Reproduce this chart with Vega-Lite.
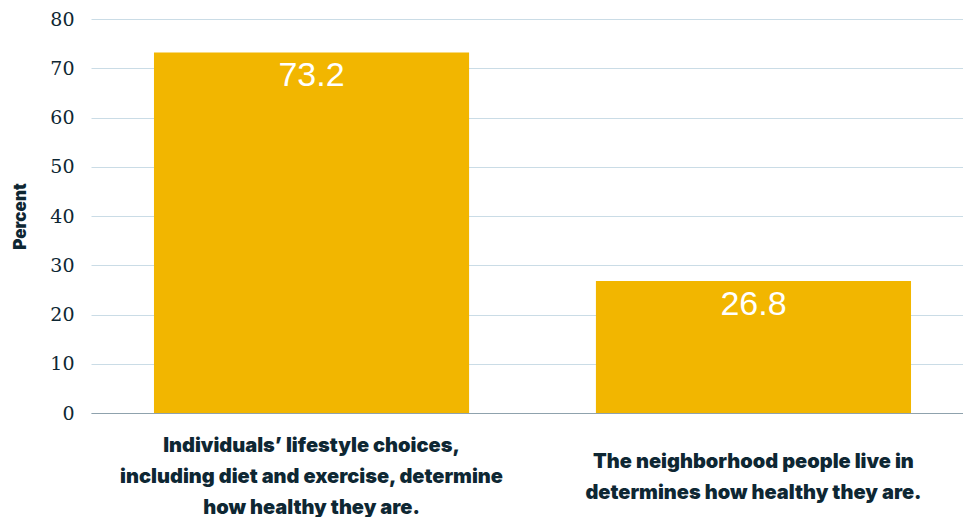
{
  "$schema": "https://vega.github.io/schema/vega-lite/v6.json",
  "width": 883,
  "height": 394,
  "autosize": {"type": "none"},
  "padding": {"left": 91, "top": 19, "right": 0, "bottom": 104},
  "background": "white",
  "config": {"view": {"stroke": null}},
  "data": {
    "values": [
      {"statement": "Individuals’ lifestyle choices, including diet and exercise, determine how healthy they are.", "percent": 73.2},
      {"statement": "The neighborhood people live in determines how healthy they are.", "percent": 26.8}
    ]
  },
  "layer": [
    {
      "mark": {"type": "bar", "color": "#F2B600"},
      "encoding": {
        "x": {
          "field": "statement",
          "type": "nominal",
          "sort": null,
          "scale": {"paddingInner": 0.287, "paddingOuter": 0.1425},
          "axis": {
            "title": null,
            "labelAngle": 0,
            "ticks": false,
            "domainColor": "#8FA2AD",
            "domainWidth": 1,
            "labelFont": "Inter",
            "labelFontWeight": 900,
            "labelFontSize": 20,
            "labelColor": "#0E2733",
            "labelBaseline": "top",
            "labelLineHeight": 31,
            "labelPadding": {"condition": {"test": "indexof(datum.value, 'neighborhood') >= 0", "value": 38}, "value": 22},
            "labelLimit": 0,
            "labelExpr": "datum.index == 0 ? ['Individuals’ lifestyle choices,', 'including diet and exercise, determine', 'how healthy they are.'] : ['The neighborhood people live in', 'determines how healthy they are.']"
          }
        },
        "y": {
          "field": "percent",
          "type": "quantitative",
          "scale": {"domain": [0, 80], "nice": false},
          "axis": {
            "title": "Percent",
            "titleFont": "Inter",
            "titleFontWeight": 900,
            "titleFontSize": 17,
            "titleColor": "#0E2733",
            "titlePadding": 20,
            "values": [0, 5, 10, 15, 20, 25, 30, 35, 40, 45, 50, 55, 60, 65, 70, 75, 80],
            "labelExpr": "datum.value % 10 === 0 ? datum.label : ''",
            "ticks": false,
            "domain": false,
            "gridColor": "#CADCE6",
            "gridWidth": 1,
            "labelFont": "DejaVu Serif",
            "labelFontSize": 19,
            "labelColor": "#0E2733",
            "labelPadding": 17
          }
        }
      }
    },
    {
      "mark": {"type": "text", "color": "white", "font": "Liberation Sans", "fontSize": 34, "baseline": "top", "dy": 7},
      "encoding": {
        "x": {"field": "statement", "type": "nominal", "sort": null},
        "y": {"field": "percent", "type": "quantitative"},
        "text": {"field": "percent", "type": "quantitative", "format": ".1f"}
      }
    }
  ]
}
